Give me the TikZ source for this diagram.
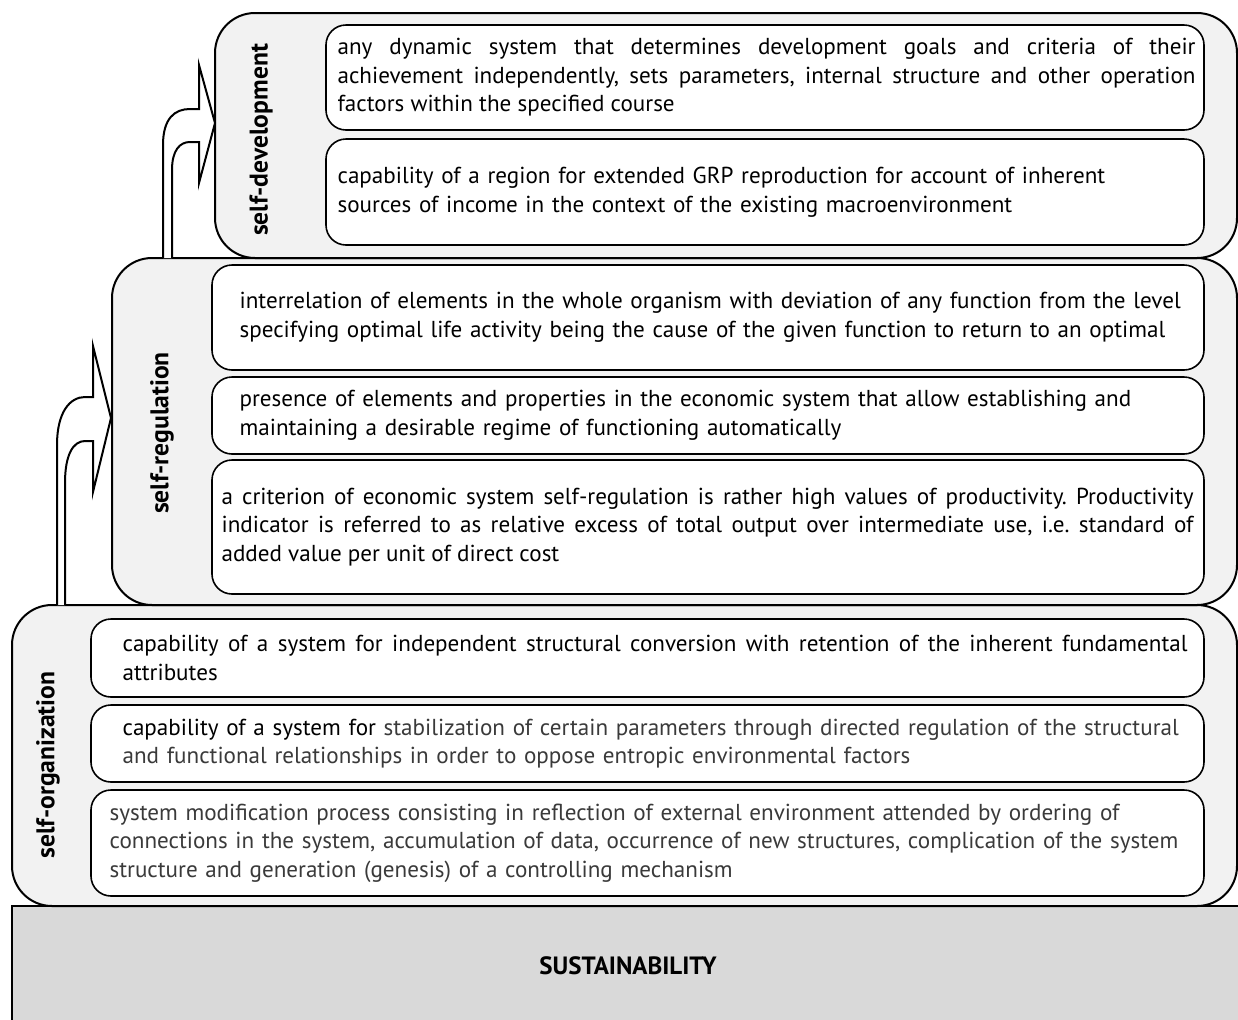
\documentclass[tikz,border=0pt]{standalone}
\usepackage{fontspec}
\setmainfont{PT Sans}
\frenchspacing
\definecolor{panelgrey}{HTML}{F2F2F2}
\definecolor{basegrey}{HTML}{D9D9D9}
\definecolor{textgrey}{HTML}{3A3A3A}
\begin{document}
\begin{tikzpicture}[x=.5pt,y=-.5pt,
    panel/.style={draw,line width=1pt,fill=panelgrey,rounded corners=20pt,inner sep=0pt},
    itembox/.style={draw,line width=.8pt,fill=white,rounded corners=10pt,inner sep=0pt,minimum width=#1},
    itemtext/.style={anchor=west,inner sep=0pt,font=\fontsize{11.55}{14.25}\selectfont},
    levellabel/.style={rotate=90,font=\fontsize{12.8}{14}\selectfont\bfseries},
    blockarrow/.style={draw,line width=1pt,fill=white,line join=miter}]
  \useasboundingbox (0,0) rectangle (1238,1019);
  \clip (0,0) rectangle (1238,1019);
  % base
  \node[draw,line width=1pt,fill=basegrey,minimum width=616pt,minimum height=60pt,
        font=\fontsize{12.5}{14}\selectfont\bfseries] (base) at (628,966) {SUSTAINABILITY};
  % three levels
  \node[panel,minimum width=612.5pt,minimum height=150.5pt] (org) at (624.5,755.5) {};
  \node[panel,minimum width=562.5pt,minimum height=173.5pt] (reg) at (674.5,431.5) {};
  \node[panel,minimum width=511pt,minimum height=122.5pt] (dev) at (726,135.5) {};
  \node[levellabel] (orglabel) at (48,765) {self-organization};
  \node[levellabel] (reglabel) at (162,433) {self-regulation};
  \node[levellabel] (devlabel) at (261,140) {self-development};
  % self-development
  \node[itembox=439pt,minimum height=52.5pt] (d1) at (765,77.5) {};
  \node[itembox=439pt,minimum height=53pt] (d2) at (765,192) {};
  \node[itemtext,text width=429pt,align=justify] (d1t) at ([xshift=6pt]d1.west)
    {any dynamic system that determines development goals and criteria of their\linebreak
     achievement independently, sets parameters, internal structure and other operation\linebreak
     factors within the specified course};
  \node[itemtext,text width=540pt,align=left] (d2t) at ([xshift=6pt]d2.west)
    {capability of a region for extended GRP reproduction for account of inherent\\
     sources of income in the context of the existing macroenvironment};
  % self-regulation
  \node[itembox=496pt,minimum height=52.5pt] (r1) at (708,317.5) {};
  \node[itembox=496pt,minimum height=38.5pt] (r2) at (708,415.5) {};
  \node[itembox=496pt,minimum height=67pt] (r3) at (708,527) {};
  \node[itemtext,text width=540pt,align=left] (r1t) at ([xshift=14pt]r1.west)
    {interrelation of elements in the whole organism with deviation of any function from the level\\
     specifying optimal life activity being the cause of the given function to return to an optimal};
  \node[itemtext,text width=540pt,align=left] (r2t) at ([xshift=14pt]r2.west)
    {presence of elements and properties in the economic system that allow establishing and\\
     maintaining a desirable regime of functioning automatically};
  \node[itemtext,text width=486pt,align=justify] (r3t) at ([xshift=5pt]r3.west)
    {a criterion of economic system self-regulation is rather high values of productivity. Productivity\linebreak
     indicator is referred to as relative excess of total output over intermediate use, i.e. standard of\linebreak
     added value per unit of direct cost};
  % self-organization
  \node[itembox=556.5pt,minimum height=39pt] (o1) at (647.5,658) {};
  \node[itembox=556.5pt,minimum height=38.5pt] (o2) at (647.5,743.5) {};
  \node[itembox=556.5pt,minimum height=53pt] (o3) at (647.5,843) {};
  \node[itemtext,text width=532.5pt,align=justify] (o1t) at ([xshift=16pt]o1.west)
    {capability of a system for independent structural conversion with retention of the inherent fundamental\linebreak
     attributes};
  \node[itemtext,text width=600pt,align=left] (o2t) at ([xshift=16pt]o2.west)
    {capability of a system for \textcolor{textgrey}{stabilization of certain parameters through directed regulation of the structural\\
     and functional relationships in order to oppose entropic environmental factors}};
  \node[itemtext,text width=600pt,align=left,text=textgrey] (o3t) at ([xshift=9.5pt]o3.west)
    {system modification process consisting in reflection of external environment attended by ordering of\\
     connections in the system, accumulation of data, occurrence of new structures, complication of the system\\
     structure and generation (genesis) of a controlling mechanism};
  % arrows between levels
  \draw[blockarrow] (57,605) -- (57,445) .. controls (57,412) and (70,397) .. (85,397) -- (93,397)
    -- (93,346) -- (111,418) -- (93,492) -- (93,441) -- (85,441)
    .. controls (73,441) and (65,455) .. (65,483) -- (65,605);
  \draw[blockarrow] (163,258) -- (163,145) .. controls (163,118) and (175,109) .. (190,109) -- (199,109)
    -- (199,65) -- (215,123) -- (199,183) -- (199,142) -- (190,142)
    .. controls (180,142) and (172,150) .. (172,170) -- (172,258);
\end{tikzpicture}
\end{document}
